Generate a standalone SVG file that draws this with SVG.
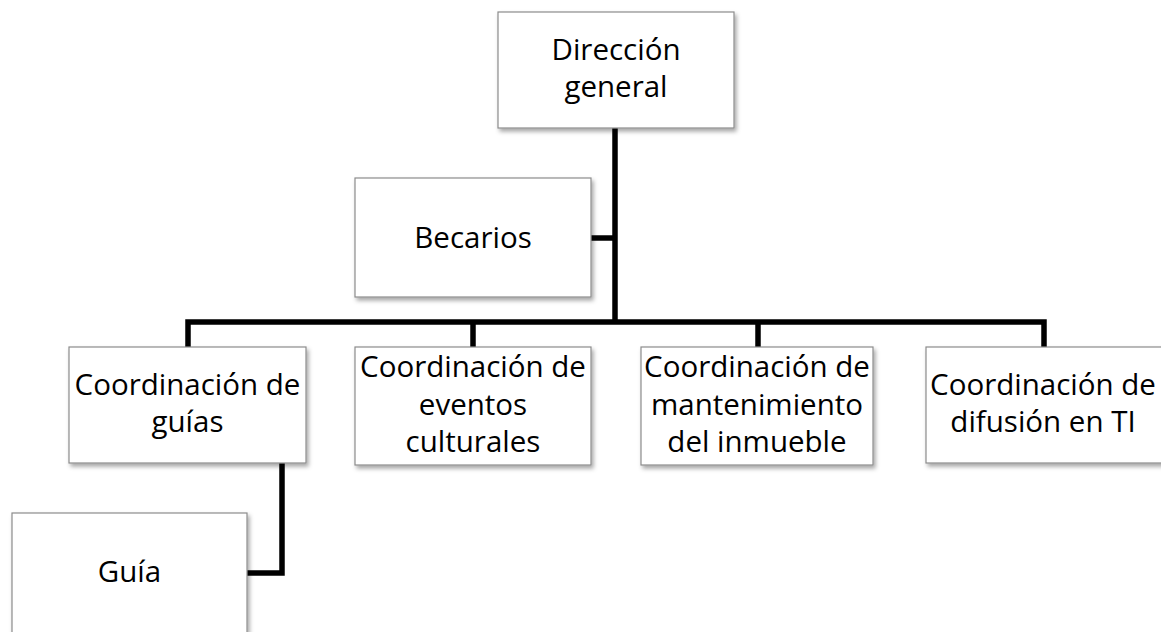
<svg xmlns="http://www.w3.org/2000/svg" width="1161" height="632" viewBox="0 0 1161 632">
<style>
.box{fill:#fff;stroke:#8c8c8c;stroke-width:1.2;filter:url(#sh)}
.t{font-family:"Open Sans","Liberation Sans",sans-serif;font-size:29.5px;fill:#000;text-anchor:middle}
.c{fill:none;stroke:#000;stroke-width:5.5;stroke-linejoin:miter;stroke-linecap:butt}
</style>
<defs>
<filter id="sh" x="-10%" y="-10%" width="125%" height="130%">
<feDropShadow dx="2" dy="3" stdDeviation="2" flood-color="#000" flood-opacity="0.35"/>
</filter>
</defs>
<rect width="1161" height="632" fill="#fff"/>
<g id="connectors">
<path class="c" d="M615 128 V323"/>
<path class="c" d="M591 238 H615"/>
<path class="c" d="M188 347 V322 H1044 V347"/>
<path class="c" d="M473 322 V347"/>
<path class="c" d="M758 322 V347"/>
<path class="c" d="M282 463 V573 H247"/>
</g>
<g id="direccion">
<rect class="box" x="498" y="12" width="236" height="116"/>
<text class="t" x="616" y="60">Dirección</text>
<text class="t" x="616" y="97">general</text>
</g>
<g id="becarios">
<rect class="box" x="355" y="178" width="236" height="119"/>
<text class="t" x="473" y="248">Becarios</text>
</g>
<g id="guias">
<rect class="box" x="69" y="347" width="237" height="116"/>
<text class="t" x="187.5" y="395">Coordinación de</text>
<text class="t" x="187.5" y="432">guías</text>
</g>
<g id="eventos">
<rect class="box" x="355" y="347" width="236" height="118"/>
<text class="t" x="473" y="377">Coordinación de</text>
<text class="t" x="473" y="415">eventos</text>
<text class="t" x="473" y="452">culturales</text>
</g>
<g id="mantenimiento">
<rect class="box" x="641" y="347" width="232" height="118"/>
<text class="t" x="757" y="377">Coordinación de</text>
<text class="t" x="757" y="415">mantenimiento</text>
<text class="t" x="757" y="452">del inmueble</text>
</g>
<g id="difusion">
<rect class="box" x="926" y="347" width="237" height="116"/>
<text class="t" x="1043" y="395">Coordinación de</text>
<text class="t" x="1043" y="432">difusión en TI</text>
</g>
<g id="guia">
<rect class="box" x="12" y="513" width="235" height="125"/>
<text class="t" x="129.5" y="582">Guía</text>
</g>
</svg>
